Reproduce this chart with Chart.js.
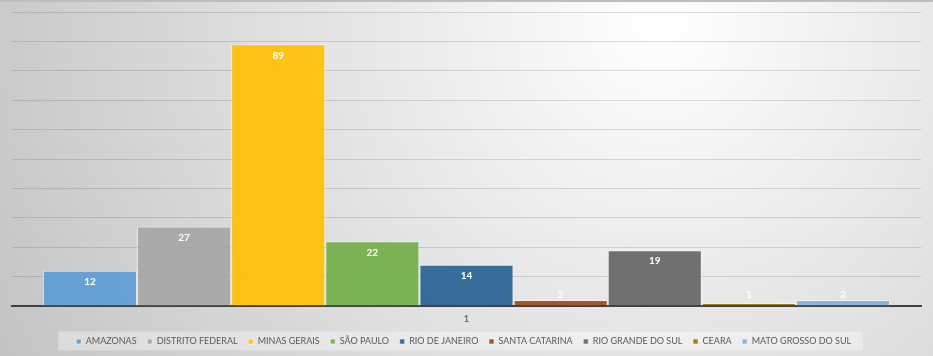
<!DOCTYPE html>
<html>
<head>
<meta charset="utf-8">
<script src="https://cdn.jsdelivr.net/npm/chart.js@4"></script>
<style>
  html, body { margin: 0; padding: 0; background: #fff; }
  #wrap { width: 933px; height: 356px; position: relative; }
</style>
</head>
<body>
<div id="wrap"><canvas id="grafico"></canvas></div>
<script>
// dados
const categorias = ['1'];
const estados = ['AMAZONAS', 'DISTRITO FEDERAL', 'MINAS GERAIS', 'SÃO PAULO', 'RIO DE JANEIRO',
                 'SANTA CATARINA', 'RIO GRANDE DO SUL', 'CEARA', 'MATO GROSSO DO SUL'];
const valores = [12, 27, 89, 22, 14, 2, 19, 1, 2];
const cores = ['#5B9BD5', '#A5A5A5', '#FFC000', '#70AD47', '#255E91',
               '#9E480E', '#636363', '#997300', '#7CAFDD'];

const FONTE = "Lato, 'Liberation Sans', sans-serif";

// fundo com degradê radial + caixa da legenda
const fundoPlugin = {
    id: 'fundo',
    beforeDraw(chart) {
        const ctx = chart.ctx;
        const w = chart.width, h = chart.height;
        ctx.save();
        const g = ctx.createRadialGradient(660, 20, 0, 660, 20, 760);
        g.addColorStop(0, '#ffffff');
        g.addColorStop(1, '#c2c2c2');
        ctx.fillStyle = g;
        ctx.fillRect(0, 0, w, h);
        ctx.strokeStyle = '#bdbdbd';
        ctx.lineWidth = 2;
        ctx.beginPath(); ctx.moveTo(0, 1); ctx.lineTo(w, 1); ctx.stroke();

        const caixas = chart.legend && chart.legend.legendHitBoxes;
        if (caixas && caixas.length) {
            const esq = Math.min(...caixas.map(b => b.left)) - 18;
            const dir = Math.max(...caixas.map(b => b.left + b.width)) + 6;
            const meio = caixas[0].top + caixas[0].height / 2;
            ctx.fillStyle = 'rgba(255,255,255,0.35)';
            ctx.fillRect(esq, meio - 10, dir - esq, 19);
        }
        ctx.restore();
    }
};

// rótulos de valor dentro do topo das barras
const rotulosPlugin = {
    id: 'rotulos',
    afterDatasetsDraw(chart) {
        const ctx = chart.ctx;
        const base = chart.scales.y.getPixelForValue(0);
        ctx.save();
        ctx.font = "bold 10px " + FONTE;
        ctx.fillStyle = '#ffffff';
        ctx.textAlign = 'center';
        ctx.textBaseline = 'middle';
        chart.data.datasets.forEach((ds, i) => {
            const meta = chart.getDatasetMeta(i);
            meta.data.forEach((bar, j) => {
                const y = Math.min(bar.y + 11, base - 11);
                ctx.fillText(String(ds.data[j]), bar.x, y);
            });
        });
        ctx.restore();
    }
};

const datasets = estados.map((nome, i) => ({
    label: nome,
    data: [valores[i]],
    backgroundColor: cores[i] + 'E6',
    borderColor: 'rgba(255,255,255,0.55)',
    borderWidth: 1,
    categoryPercentage: 0.932,
    barPercentage: 1
}));

new Chart(document.getElementById('grafico'), {
    type: 'bar',
    data: { labels: categorias, datasets: datasets },
    options: {
        responsive: true,
        maintainAspectRatio: false,
        animation: false,
        layout: { padding: { top: 12, left: 12, right: 12, bottom: 0 } },
        plugins: {
            tooltip: { enabled: false },
            legend: {
                position: 'bottom',
                labels: {
                    boxWidth: 5,
                    boxHeight: 5,
                    padding: 5,
                    color: '#595959',
                    font: { family: FONTE, size: 9 },
                    // espaço extra entre os itens
                    generateLabels(chart) {
                        const itens = Chart.defaults.plugins.legend.labels.generateLabels(chart);
                        itens.forEach(it => { it.text = it.text + '\u2002\u2009'; });
                        return itens;
                    }
                }
            }
        },
        scales: {
            x: {
                grid: { display: false, drawTicks: false },
                border: { color: '#404040', width: 2 },
                ticks: { color: '#595959', font: { family: FONTE, size: 10 }, padding: 7 }
            },
            y: {
                min: 0,
                max: 100,
                ticks: { display: false, stepSize: 10 },
                border: { display: false },
                grid: { color: 'rgba(0,0,0,0.12)', lineWidth: 1, drawTicks: false }
            }
        }
    },
    plugins: [fundoPlugin, rotulosPlugin]
});
</script>
</body>
</html>
